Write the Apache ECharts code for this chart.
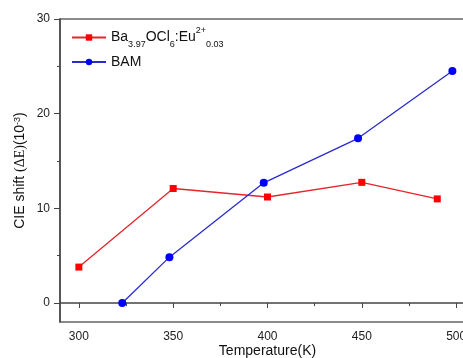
<!DOCTYPE html>
<html><head><meta charset="utf-8">
<script src="https://cdn.jsdelivr.net/npm/echarts@6/dist/echarts.min.js"></script>
<style>html,body{margin:0;padding:0;background:#fff}#c{width:463px;height:358px}</style>
</head><body><div id="c"></div>
<script>
const seriesNames = ['Ba3.97OCl6:Eu2+0.03', 'BAM'];
const redX = [300, 350, 400, 450, 490];
const redY = [3.8, 12.1, 11.2, 12.75, 11.0];
const blueX = [323, 348, 398, 448, 498];
const blueY = [0.0, 4.85, 12.7, 17.4, 24.5];
const xTicks = [300, 350, 400, 450, 500];
const xMinorTicks = [325, 375, 425, 475];
const yTicks = [0, 10, 20, 30];
const yMinorTicks = [5, 15, 25];

const FONT = 'Liberation Sans, Arial, sans-serif';
const chart = echarts.init(document.getElementById('c'), null, {renderer: 'canvas'});
const axisCol = '#444';
const opt = {
  animation: false,
  backgroundColor: '#fff',
  grid: {left: 60, top: 19, bottom: 36, right: -12, outerBoundsMode: 'none', containLabel: false,
    show: true, borderColor: '#666', borderWidth: 1.5, backgroundColor: 'transparent'},
  legend: {
    orient: 'vertical', left: 71, top: 26, padding: 0, itemWidth: 34, itemHeight: 8, itemGap: 6,
    data: seriesNames,
    formatter: function (n) {
      if (n === seriesNames[0]) return '{n|Ba}{sub|3.97}{n|OCl}{sub|6}{n|:Eu}{sup|2+}{sub|0.03}';
      return '{n|' + n + '}';
    },
    textStyle: {
      rich: {
        n: {fontFamily: FONT, fontSize: 14, color: '#111', lineHeight: 23},
        sub: {fontFamily: FONT, fontSize: 9, color: '#111', lineHeight: 8, verticalAlign: 'bottom'},
        sup: {fontFamily: FONT, fontSize: 9, color: '#111', lineHeight: 8, verticalAlign: 'top'}
      }
    }
  },
  xAxis: [{
    type: 'value', min: 290, max: 510, position: 'bottom',
    name: 'Temperature(K)', nameLocation: 'middle', nameGap: 22, nameMoveOverlap: false,
    nameTextStyle: {fontFamily: FONT, fontSize: 14, color: '#111'},
    axisLine: {lineStyle: {color: axisCol, width: 1.5}},
    axisTick: {show: true, inside: false, length: 5, customValues: xTicks, lineStyle: {color: axisCol, width: 1}},
    axisLabel: {customValues: xTicks, fontFamily: FONT, fontSize: 12, color: '#222', margin: 9},
    splitLine: {show: false}
  }, {
    type: 'value', min: 290, max: 510, position: 'bottom',
    axisLine: {show: false},
    axisTick: {show: true, inside: false, length: 3, customValues: xMinorTicks, lineStyle: {color: axisCol, width: 1}},
    axisLabel: {show: false}, splitLine: {show: false}
  }],
  yAxis: [{
    type: 'value', min: -2, max: 30, position: 'left',
    name: 'CIE shift {s|(ΔE)}(10{sup|-3})', nameLocation: 'middle', nameGap: 33, nameMoveOverlap: false,
    nameTextStyle: {fontFamily: FONT, fontSize: 14, color: '#111',
      rich: {
        s: {fontFamily: 'Liberation Serif, Times New Roman, serif', fontSize: 14, color: '#111'},
        sup: {fontFamily: FONT, fontSize: 9, color: '#111', verticalAlign: 'top', lineHeight: 8}
      }},
    axisLine: {show: true, lineStyle: {color: axisCol, width: 1.5}},
    axisTick: {show: true, inside: false, length: 6, customValues: yTicks, lineStyle: {color: axisCol, width: 1}},
    axisLabel: {customValues: yTicks, fontFamily: FONT, fontSize: 12, color: '#222', margin: 10},
    splitLine: {show: false}
  }, {
    type: 'value', min: -2, max: 30, position: 'left',
    axisLine: {show: false},
    axisTick: {show: true, inside: false, length: 3, customValues: yMinorTicks, lineStyle: {color: axisCol, width: 1}},
    axisLabel: {show: false}, splitLine: {show: false}
  }],
  series: [{
    name: seriesNames[0], type: 'line', xAxisIndex: 0, yAxisIndex: 0,
    data: redX.map((x, i) => [x, redY[i]]),
    symbol: 'rect', symbolSize: 7,
    itemStyle: {color: '#ff0000'},
    lineStyle: {color: '#e3262c', width: 1.3}
  }, {
    name: seriesNames[1], type: 'line', xAxisIndex: 0, yAxisIndex: 0,
    data: blueX.map((x, i) => [x, blueY[i]]),
    symbol: 'circle', symbolSize: 8,
    itemStyle: {color: '#0000ff'},
    lineStyle: {color: '#2b2bd0', width: 1.3}
  }]
};
chart.setOption(opt);
</script></body></html>
